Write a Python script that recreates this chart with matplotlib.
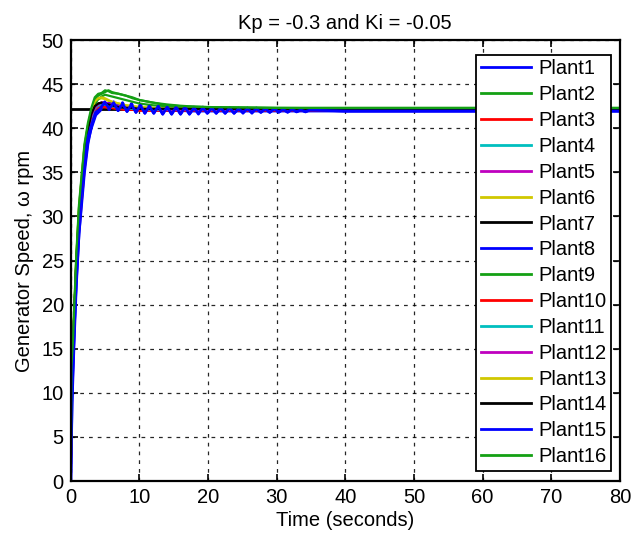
import matplotlib
matplotlib.use("Agg")
import matplotlib.pyplot as plt

plt.rcParams['font.family'] = ['Liberation Sans', 'DejaVu Sans']

title = "Kp = -0.3 and Ki = -0.05"
xlabel = "Time (seconds)"
ylabel = "Generator Speed, ω rpm"
x_ticks = [0, 10, 20, 30, 40, 50, 60, 70, 80]
y_ticks = [0, 5, 10, 15, 20, 25, 30, 35, 40, 45, 50]
setpoint = 42.2

t_main = [0, 0.1, 0.3, 0.5, 0.8, 1.2, 1.6, 2.0, 2.5, 3.0, 3.5, 4.0, 4.5, 5.0, 5.5,
          6.0, 7.0, 8.0, 9.0, 10, 12, 14, 16, 18, 20, 25, 30, 40, 60, 80]

t_ripple = [0, 0.2, 0.5, 0.8, 1.2, 1.6, 2.0, 2.5,
            3.0, 3.65, 4.3, 4.95, 5.6, 6.25, 6.9, 7.55, 8.2, 8.85, 9.5, 10.15,
            10.8, 11.45, 12.1, 12.75, 13.4, 14.05, 14.7, 15.35, 16.0, 16.65,
            17.3, 17.95, 18.6, 19.25, 19.9, 20.55, 21.2, 21.85, 22.5, 23.15,
            23.8, 24.45, 25.1, 25.75, 26.4, 27.05, 27.7, 28.35, 29.0, 29.65,
            30.3, 30.95, 31.6, 32.25, 32.9, 33.55, 34.2, 34.85,
            40, 60, 80]

plant1 = [0, 9, 16, 22, 28, 32, 35.5, 38.5,
          40.0, 41.5, 42.0, 42.9, 42.1, 43.0, 42.0, 42.9, 41.9, 42.8, 41.8, 42.7,
          41.7, 42.6, 41.7, 42.5, 41.6, 42.5, 41.6, 42.4, 41.6, 42.4,
          41.6, 42.4, 41.6, 42.4, 41.7, 42.3, 41.7, 42.3, 41.7, 42.3,
          41.7, 42.3, 41.7, 42.3, 41.7, 42.3, 41.8, 42.2, 41.8, 42.2,
          41.8, 42.2, 41.8, 42.2, 41.85, 42.1, 41.85, 42.1,
          41.95, 41.95, 41.95]
plant15 = [0, 10, 17, 23, 29, 33, 36, 39,
           40.3, 41.8, 42.2, 43.0, 42.2, 42.9, 42.0, 42.8, 41.9, 42.7, 41.8, 42.6,
           41.7, 42.5, 41.7, 42.5, 41.6, 42.4, 41.6, 42.4, 41.6, 42.4,
           41.6, 42.3, 41.7, 42.3, 41.7, 42.3, 41.7, 42.3, 41.7, 42.3,
           41.7, 42.2, 41.8, 42.2, 41.8, 42.2, 41.8, 42.2, 41.8, 42.2,
           41.85, 42.1, 41.85, 42.1, 41.9, 42.05, 41.9, 42.05,
           41.95, 41.95, 41.95]

plant2 = [0, 12, 15, 19, 25, 31, 34.5, 37.9, 40.3, 42.0, 43.2, 43.7, 43.9, 44.1, 44.3,
          44.1, 43.9, 43.7, 43.5, 43.2, 42.9, 42.6, 42.5, 42.45, 42.4, 42.35, 42.3, 42.3, 42.3, 42.3]
plant3 = [0, 9, 14, 18, 23.5, 29, 32.5, 36, 39, 40.8, 41.8, 42.2, 42.4, 42.4, 42.4,
          42.3, 42.2, 42.1, 42.1, 42.0, 42.0, 42.0, 42.0, 42.0, 42.0, 42.0, 42.0, 42.0, 42.0, 42.0]
plant4 = [0, 10, 14.5, 18.5, 24, 29.5, 33, 36.5, 39.3, 41.1, 42.1, 42.5, 42.7, 42.7, 42.6,
          42.5, 42.4, 42.3, 42.2, 42.2, 42.1, 42.1, 42.1, 42.1, 42.1, 42.1, 42.1, 42.1, 42.1, 42.1]
plant5 = [0, 10, 14.5, 18.5, 24.2, 29.8, 33.3, 36.8, 39.5, 41.3, 42.3, 42.7, 42.9, 42.9, 42.8,
          42.7, 42.5, 42.4, 42.3, 42.2, 42.2, 42.1, 42.1, 42.1, 42.1, 42.1, 42.1, 42.1, 42.1, 42.1]
plant6 = [0, 11.5, 15, 19, 25, 30.8, 34.3, 37.8, 40.2, 41.9, 43.0, 43.3, 43.4, 43.3, 43.1,
          43.0, 42.8, 42.6, 42.5, 42.4, 42.3, 42.2, 42.2, 42.2, 42.2, 42.2, 42.2, 42.2, 42.2, 42.2]
plant7 = [0, 10.5, 14.7, 18.7, 24.5, 30, 33.6, 37, 39.7, 41.5, 42.4, 42.8, 42.9, 42.8, 42.7,
          42.6, 42.4, 42.3, 42.3, 42.2, 42.2, 42.2, 42.2, 42.2, 42.2, 42.2, 42.2, 42.2, 42.2, 42.2]
plant8 = [0, 8, 13, 17, 22.5, 28, 31.5, 35, 38.2, 40.2, 41.4, 42.1, 42.5, 42.7, 42.8,
          42.8, 42.6, 42.4, 42.3, 42.2, 42.1, 42.0, 42.0, 41.95, 41.95, 41.95, 41.95, 41.95, 41.95, 41.95]
plant9 = [0, 11, 14.5, 18.5, 24.5, 30.5, 34, 37.3, 39.8, 41.5, 42.7, 43.3, 43.6, 43.8, 43.7,
          43.6, 43.4, 43.2, 43.0, 42.8, 42.6, 42.5, 42.4, 42.35, 42.3, 42.3, 42.3, 42.25, 42.25, 42.25]
plant10 = [0, 9.5, 14, 18, 23.8, 29.3, 32.8, 36.3, 39.2, 41.0, 41.9, 42.3, 42.4, 42.4, 42.3,
           42.3, 42.2, 42.1, 42.1, 42.0, 42.0, 42.0, 42.0, 42.0, 42.0, 42.0, 42.0, 42.0, 42.0, 42.0]
plant11 = [0, 10, 14.5, 18.5, 24.2, 29.7, 33.2, 36.7, 39.5, 41.2, 42.2, 42.6, 42.7, 42.7, 42.6,
           42.5, 42.4, 42.3, 42.2, 42.2, 42.1, 42.1, 42.1, 42.1, 42.1, 42.1, 42.1, 42.1, 42.1, 42.1]
plant12 = [0, 10, 14.5, 18.5, 24.3, 29.9, 33.4, 36.9, 39.6, 41.4, 42.3, 42.7, 42.9, 42.9, 42.8,
           42.7, 42.5, 42.4, 42.3, 42.2, 42.2, 42.1, 42.1, 42.1, 42.1, 42.1, 42.1, 42.1, 42.1, 42.1]
plant13 = [0, 11.5, 15, 19, 25, 30.8, 34.3, 37.8, 40.2, 41.9, 43.0, 43.4, 43.5, 43.4, 43.2,
           43.0, 42.8, 42.6, 42.5, 42.4, 42.3, 42.2, 42.2, 42.2, 42.2, 42.2, 42.2, 42.2, 42.2, 42.2]
plant14 = [0, 10.5, 14.7, 18.7, 24.6, 30.1, 33.7, 37.1, 39.8, 41.6, 42.5, 42.8, 42.9, 42.8, 42.7,
           42.6, 42.4, 42.3, 42.3, 42.2, 42.2, 42.2, 42.2, 42.2, 42.2, 42.2, 42.2, 42.2, 42.2, 42.2]
plant16 = [0, 13, 15.5, 19.5, 25.5, 31.3, 34.8, 38.2, 40.6, 42.3, 43.5, 43.9, 44.0, 44.3, 44.2,
           44.0, 43.9, 43.7, 43.4, 43.2, 42.9, 42.7, 42.55, 42.45, 42.4, 42.35, 42.3, 42.3, 42.3, 42.3]

labels = ["Plant%d" % i for i in range(1, 17)]
series = [(t_ripple, plant1), (t_main, plant2), (t_main, plant3), (t_main, plant4),
          (t_main, plant5), (t_main, plant6), (t_main, plant7), (t_main, plant8),
          (t_main, plant9), (t_main, plant10), (t_main, plant11), (t_main, plant12),
          (t_main, plant13), (t_main, plant14), (t_ripple, plant15), (t_main, plant16)]

cb = '#0000ff'; cg = '#14a014'; cr = '#ff0000'; cc = '#00bfbf'
cm = '#bf00bf'; cy = '#d0c800'; ck = '#000000'
colors = [cb, cg, cr, cc, cm, cy, ck, cb, cg, cr, cc, cm, cy, ck, cb, cg]

fig = plt.figure(figsize=(6.43, 5.36), dpi=100)
ax = fig.add_axes([0.110, 0.1026, 0.854, 0.8227])

ax.axhline(setpoint, color='black', lw=2.0, zorder=1.5)
for (tt, yy), c, lab in zip(series, colors, labels):
    lw = 2.0 if c == cb else 1.6
    ax.plot(tt, yy, color=c, lw=lw, label=lab, zorder=2)

ax.set_xlim(0, 80)
ax.set_ylim(0, 50)
ax.set_xticks(x_ticks)
ax.set_yticks(y_ticks)
ax.tick_params(direction='in', length=5, width=1.2, top=True, right=True,
               labelsize=14.5, colors='black', pad=5)
for s in ax.spines.values():
    s.set_linewidth(1.6)
    s.set_color('black')
ax.grid(True, color='black', linestyle=(0, (3, 4)), linewidth=0.9, alpha=0.85)
ax.set_axisbelow(True)

ax.set_title(title, fontsize=14.5, pad=8)
ax.set_xlabel(xlabel, fontsize=14.5, labelpad=3)
ax.set_ylabel(ylabel, fontsize=14.5, labelpad=5)

leg = ax.legend(loc='upper right', bbox_to_anchor=(0.9836, 0.966), borderaxespad=0,
                fontsize=14.5, handlelength=2.5, handletextpad=0.35,
                labelspacing=0.34, fancybox=False, framealpha=1,
                edgecolor='black', borderpad=0.22)
leg.get_frame().set_linewidth(1.3)
for line in leg.get_lines():
    line.set_linewidth(2.0)

fig.savefig("out.png", dpi=100)
